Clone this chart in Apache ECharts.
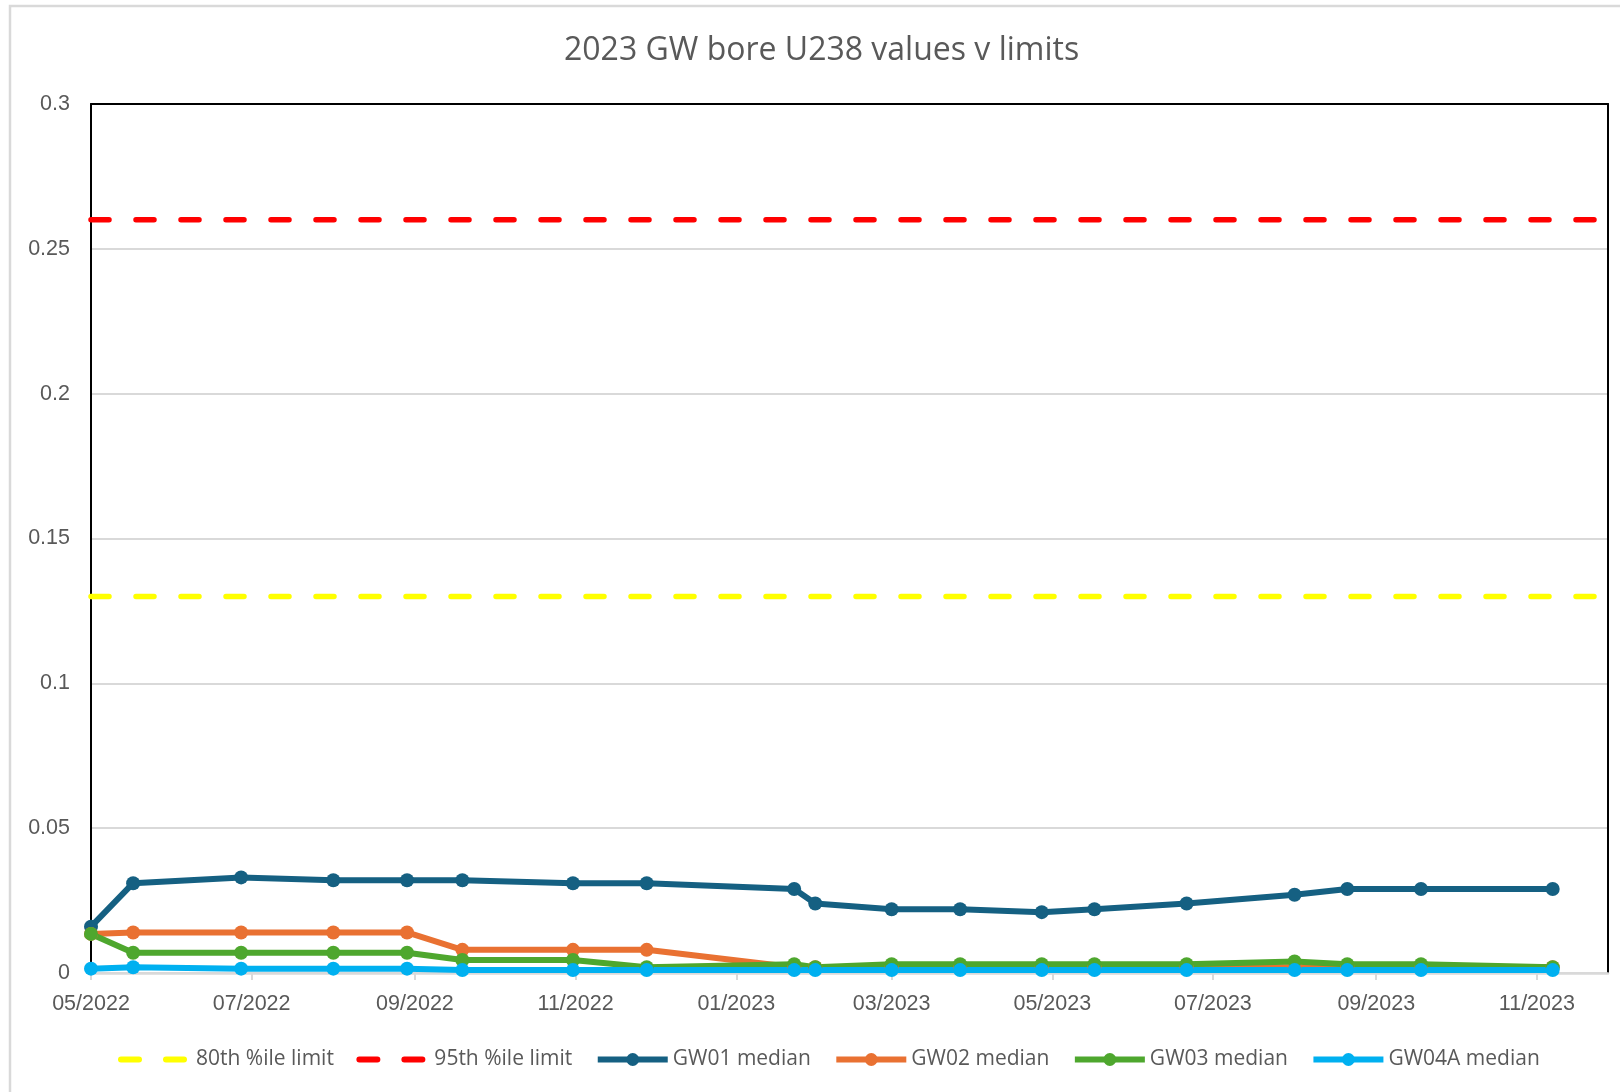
<!DOCTYPE html>
<html>
<head>
<meta charset="utf-8">
<title>2023 GW bore U238 values v limits</title>
<script src="https://cdn.jsdelivr.net/npm/echarts@6/dist/echarts.min.js"></script>
<style>
  html, body { margin: 0; padding: 0; background: #fff; }
  #main { width: 1620px; height: 1092px; }
</style>
</head>
<body>
<div id="main"></div>
<script>
// sample dates (shared by all bores)
var sampleDates = ['2022-05-01', '2022-05-17', '2022-06-27', '2022-08-01', '2022-08-29',
    '2022-09-19', '2022-10-31', '2022-11-28', '2023-01-23', '2023-01-31', '2023-03-01',
    '2023-03-27', '2023-04-27', '2023-05-17', '2023-06-21', '2023-08-01', '2023-08-21',
    '2023-09-18', '2023-11-07'];
var gw01 = [0.016, 0.031, 0.033, 0.032, 0.032, 0.032, 0.031, 0.031, 0.029, 0.024, 0.022,
    0.022, 0.021, 0.022, 0.024, 0.027, 0.029, 0.029, 0.029];
var gw02 = [0.0135, 0.014, 0.014, 0.014, 0.014, 0.008, 0.008, 0.008, 0.002, 0.002, 0.002,
    0.002, 0.002, 0.002, 0.002, 0.002, 0.002, 0.002, 0.002];
var gw03 = [0.0135, 0.007, 0.007, 0.007, 0.007, 0.0045, 0.0045, 0.002, 0.003, 0.002, 0.003,
    0.003, 0.003, 0.003, 0.003, 0.004, 0.003, 0.003, 0.002];
var gw04a = [0.0015, 0.002, 0.0015, 0.0015, 0.0015, 0.001, 0.001, 0.001, 0.001, 0.001, 0.001,
    0.001, 0.001, 0.001, 0.001, 0.001, 0.001, 0.001, 0.001];
var limit80 = 0.13;
var limit95 = 0.26;
var axisStart = '2022-05-01';
var axisEnd = '2023-11-28';
var tickDates = ['2022-05-01', '2022-07-01', '2022-09-01', '2022-11-01', '2023-01-01',
    '2023-03-01', '2023-05-01', '2023-07-01', '2023-09-01', '2023-11-01'];
var seriesNames = ['80th %ile limit', '95th %ile limit', 'GW01 median', 'GW02 median', 'GW03 median', 'GW04A median'];
var titleText = '2023 GW bore U238 values v limits';

// date string -> ms (local); x axis is a plain value axis in ms
function ts(s) {
    var p = s.split('-');
    return new Date(+p[0], +p[1] - 1, +p[2]).getTime();
}
function pairs(vals) {
    return sampleDates.map(function (d, i) { return [ts(d), vals[i]]; });
}
function limitLine(name, v, color) {
    return {
        name: name,
        type: 'line',
        data: [[ts(axisStart), v], [ts(axisEnd), v]],
        symbol: 'none',
        color: color,
        lineStyle: { color: color, width: 5.5, type: [18, 27], cap: 'round' },
        z: 2
    };
}
function boreLine(name, vals, color) {
    return {
        name: name,
        type: 'line',
        data: pairs(vals),
        symbol: 'circle',
        symbolSize: 14,
        showAllSymbol: true,
        color: color,
        itemStyle: { color: color },
        lineStyle: { color: color, width: 6 },
        z: 3
    };
}

var labelFont = '"Liberation Sans", Arial, sans-serif';
var textFont = '"Open Sans", "Noto Sans", sans-serif';
var titleSize = 32;

// centre the title a little right of the canvas middle, like the original
var mctx = document.createElement('canvas').getContext('2d');
mctx.font = titleSize + 'px ' + textFont;
var titleW = mctx.measureText(titleText).width;

var frameAxis = { show: true, onZero: false, lineStyle: { color: '#000', width: 2 } };

var chart = echarts.init(document.getElementById('main'), null, { renderer: 'canvas' });
var option = {
    animation: false,
    backgroundColor: '#fff',
    graphic: [{
        type: 'rect',
        shape: { x: 10, y: 6, width: 1640, height: 1120 },
        style: { fill: 'none', stroke: '#d9d9d9', lineWidth: 2.5 },
        z: -10
    }],
    title: {
        text: titleText,
        left: Math.round(822 - titleW / 2),
        top: 35,
        padding: 0,
        textStyle: { fontFamily: textFont, fontSize: titleSize, fontWeight: 'normal', color: '#595959' }
    },
    legend: {
        data: seriesNames.map(function (n, i) {
            return i < 2 ? { name: n, itemStyle: { opacity: 0 } } : { name: n };
        }),
        left: 113,
        top: 1044,
        itemWidth: 70,
        itemHeight: 16,
        itemGap: 22.5,
        lineStyle: { width: 6 },
        textStyle: { fontFamily: textFont, fontSize: 21, color: '#595959' }
    },
    grid: {
        left: 91, top: 104, right: 12, bottom: 119,
        show: true, borderWidth: 0, backgroundColor: '#fff'
    },
    xAxis: [{
        type: 'value',
        min: ts(axisStart),
        max: ts(axisEnd),
        axisLine: { show: true, onZero: false, lineStyle: { color: '#d9d9d9', width: 2.5 } },
        axisTick: {
            show: true, length: 7,
            customValues: tickDates.map(ts),
            lineStyle: { color: '#d9d9d9', width: 2 }
        },
        axisLabel: {
            customValues: tickDates.map(ts),
            margin: 20,
            fontFamily: labelFont, fontSize: 21.5, color: '#595959',
            formatter: function (v) {
                var d = new Date(v);
                var m = d.getMonth() + 1;
                return (m < 10 ? '0' : '') + m + '/' + d.getFullYear();
            }
        },
        splitLine: { show: false }
    }, {
        // top edge of the plot frame
        type: 'value', position: 'top',
        min: ts(axisStart), max: ts(axisEnd),
        axisLine: frameAxis, axisTick: { show: false }, axisLabel: { show: false },
        splitLine: { show: false }
    }],
    yAxis: [{
        type: 'value',
        min: 0,
        max: 0.3,
        interval: 0.05,
        axisLine: frameAxis,
        axisTick: { show: false },
        axisLabel: { margin: 21, fontFamily: labelFont, fontSize: 21.5, color: '#595959' },
        splitLine: { lineStyle: { color: '#d9d9d9', width: 2 } }
    }, {
        // right edge of the plot frame
        type: 'value', position: 'right',
        min: 0, max: 0.3, interval: 0.05,
        axisLine: frameAxis, axisTick: { show: false }, axisLabel: { show: false },
        splitLine: { show: false }
    }],
    series: [
        limitLine(seriesNames[0], limit80, '#FFFF00'),
        limitLine(seriesNames[1], limit95, '#FF0000'),
        boreLine(seriesNames[2], gw01, '#156082'),
        boreLine(seriesNames[3], gw02, '#E97132'),
        boreLine(seriesNames[4], gw03, '#4EA72E'),
        boreLine(seriesNames[5], gw04a, '#00B0F0')
    ]
};
chart.setOption(option);
</script>
</body>
</html>
